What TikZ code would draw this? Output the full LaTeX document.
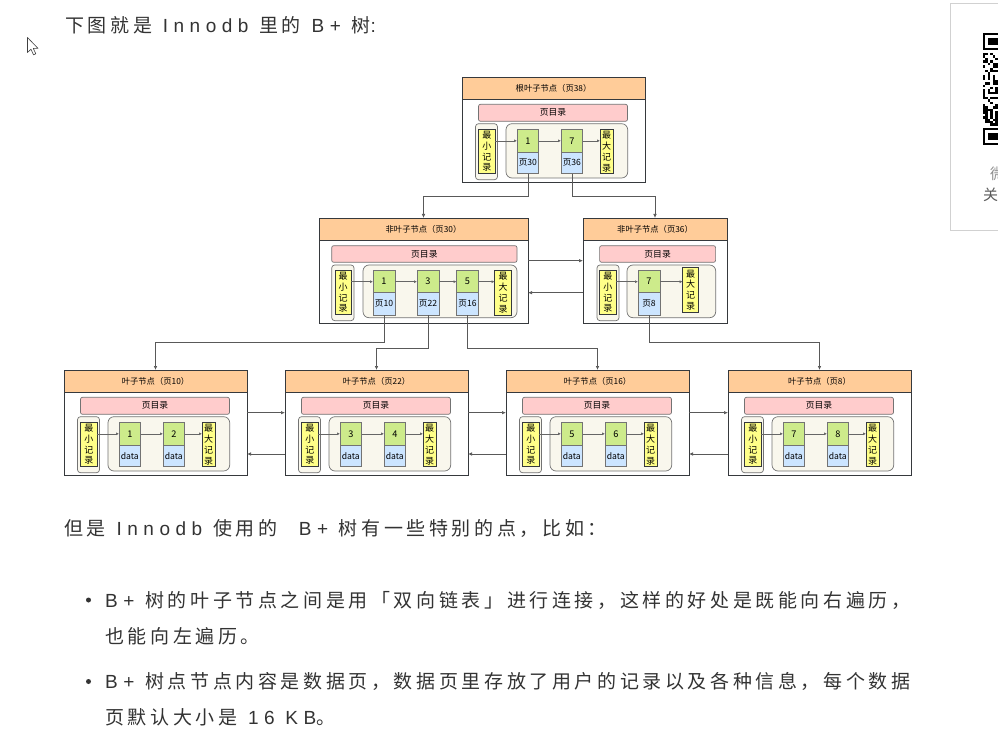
\documentclass[tikz,border=0pt]{standalone}
\usepackage{fontspec}
\setmainfont{Noto Sans CJK SC}
\newfontfamily\cjkb[LetterSpace=19]{Noto Sans CJK SC}
\newfontfamily\latb[LetterSpace=29]{Liberation Sans}
\usetikzlibrary{arrows.meta}
\definecolor{hdr}{HTML}{FFCC99}
\definecolor{pk}{HTML}{FFCCCC}
\definecolor{yl}{HTML}{FFFF88}
\definecolor{gn}{HTML}{CDEB8B}
\definecolor{bl}{HTML}{CCE5FF}
\definecolor{cf}{HTML}{F9F7ED}
\definecolor{lc}{HTML}{36393D}
\definecolor{tx}{HTML}{333333}
\tikzset{
  bx/.style={anchor=north west, inner sep=0pt, outer sep=0pt, line width=0.7pt, draw=lc, font=\fontsize{8.3}{9.5}\selectfont},
  pagebox/.style={bx, fill=white},
  headbox/.style={bx, fill=hdr},
  dirbox/.style={bx, fill=pk, draw=black!55, rounded corners=2pt, font=\fontsize{8.8}{10}\selectfont},
  minbox/.style={bx, fill=cf, draw=black!55, rounded corners=3pt},
  ybox/.style={bx, fill=yl, align=center, font=\fontsize{9}{10.8}\selectfont},
  conbox/.style={bx, fill=cf, draw=black!55, rounded corners=6pt},
  gbox/.style={bx, fill=gn, draw=black!55, font=\fontsize{9.2}{10}\selectfont},
  bbox/.style={bx, fill=bl, draw=black!55, font=\fontsize{8.6}{10}\selectfont},
  inarr/.style={draw=black!60, line width=0.6pt, -{Latex[length=3pt,width=3pt]}},
  tree/.style={draw=black!65, line width=0.7pt, -{Latex[length=4pt,width=3.5pt]}},
  body/.style={anchor=west, inner sep=0pt, text=tx, font=\cjkb\fontsize{19}{22}\selectfont},
  dot/.style={circle, fill=tx, inner sep=0pt, minimum size=5pt},
}
% standard page: #1 prefix, #2 position, #3 title, #4/#5 keys, #6/#7 lower labels
\newcommand\stdpage[7]{%
\begin{scope}[shift={(#2)}]
  \node[pagebox, minimum width=183pt, minimum height=105pt] (#1) at (0,0) {};
  \node[headbox, minimum width=183pt, minimum height=22.5pt] (#1h) at (0,0) {#3};
  \node[dirbox, minimum width=149pt, minimum height=17pt] (#1d) at (16.5,27.3) {页目录};
  \node[minbox, minimum width=22pt, minimum height=56pt] (#1mo) at (13.5,46.7) {};
  \node[ybox, minimum width=16.5pt, minimum height=44.4pt] (#1mi) at (16.5,52.3) {最\\小\\记\\录};
  \node[conbox, minimum width=121.7pt, minimum height=54.3pt] (#1c) at (44,46.7) {};
  \node[gbox, minimum width=21.7pt, minimum height=22.3pt] (#1ka) at (55,52.7) {#4};
  \node[bbox, minimum width=21.7pt, minimum height=21.7pt] (#1ba) at (55,75) {#6};
  \node[gbox, minimum width=21.7pt, minimum height=22.3pt] (#1kb) at (99,52.7) {#5};
  \node[bbox, minimum width=21.7pt, minimum height=21.7pt] (#1bb) at (99,75) {#7};
  \node[ybox, minimum width=13pt, minimum height=44pt] (#1mx) at (138,52.7) {最\\大\\记\\录};
  \draw[inarr] (#1mi.east |- #1ka.west) -- (#1ka.west);
  \draw[inarr] (#1ka.east) -- (#1kb.west);
  \draw[inarr] (#1kb.east) -- (#1mx.west |- #1kb.east);
\end{scope}}
\begin{document}
\begin{tikzpicture}[x=1pt, y=-1pt]
\useasboundingbox (0,0) rectangle (998,735);
\fill[white] (0,0) rectangle (998,735);

% ---------- root ----------
\stdpage{r}{462,77}{根叶子节点（页38）}{1}{7}{页30}{页36}

% ---------- non-leaf page 30 ----------
\begin{scope}[shift={(319,218)}]
  \node[pagebox, minimum width=209pt, minimum height=105pt] (n30) at (0,0) {};
  \node[headbox, minimum width=209pt, minimum height=22.7pt] (n30h) at (0,0) {非叶子节点（页30）};
  \node[dirbox, minimum width=185.3pt, minimum height=16.6pt] (n30d) at (12.7,27.7) {页目录};
  \node[minbox, minimum width=22.3pt, minimum height=55.7pt] (n30mo) at (12.7,47) {};
  \node[ybox, minimum width=15.6pt, minimum height=43.3pt] (n30mi) at (16.4,52.7) {最\\小\\记\\录};
  \node[conbox, minimum width=154pt, minimum height=52.7pt] (n30c) at (44,47) {};
  \node[gbox, minimum width=22pt, minimum height=22pt] (n30ka) at (54,52.7) {1};
  \node[bbox, minimum width=22pt, minimum height=22.3pt] (n30ba) at (54,74.7) {页10};
  \node[gbox, minimum width=22pt, minimum height=22pt] (n30kb) at (98,52.7) {3};
  \node[bbox, minimum width=22pt, minimum height=22.3pt] (n30bb) at (98,74.7) {页22};
  \node[gbox, minimum width=22pt, minimum height=22pt] (n30kc) at (137.5,52.7) {5};
  \node[bbox, minimum width=22pt, minimum height=22.3pt] (n30bc) at (137.5,74.7) {页16};
  \node[ybox, minimum width=17pt, minimum height=44.3pt] (n30mx) at (175.6,52.7) {最\\大\\记\\录};
  \draw[inarr] (n30mi.east |- n30ka.west) -- (n30ka.west);
  \draw[inarr] (n30ka.east) -- (n30kb.west);
  \draw[inarr] (n30kb.east) -- (n30kc.west);
  \draw[inarr] (n30kc.east) -- (n30mx.west |- n30kc.east);
\end{scope}

% ---------- non-leaf page 36 ----------
\begin{scope}[shift={(583,218)}]
  \node[pagebox, minimum width=144pt, minimum height=105pt] (n36) at (0,0) {};
  \node[headbox, minimum width=144pt, minimum height=22.7pt] (n36h) at (0,0) {非叶子节点（页36）};
  \node[dirbox, minimum width=116pt, minimum height=16.6pt] (n36d) at (16.6,27.7) {页目录};
  \node[minbox, minimum width=22pt, minimum height=55.7pt] (n36mo) at (14,47) {};
  \node[ybox, minimum width=16.4pt, minimum height=43.3pt] (n36mi) at (16.6,52.7) {最\\小\\记\\录};
  \node[conbox, minimum width=88.7pt, minimum height=52.7pt] (n36c) at (44,47) {};
  \node[gbox, minimum width=22pt, minimum height=22pt] (n36ka) at (55,52.7) {7};
  \node[bbox, minimum width=22pt, minimum height=22.3pt] (n36ba) at (55,74.7) {页8};
  \node[ybox, minimum width=16pt, minimum height=44.6pt] (n36mx) at (99.6,49.7) {最\\大\\记\\录};
  \draw[inarr] (n36mi.east |- n36ka.west) -- (n36ka.west);
  \draw[inarr] (n36ka.east) -- (n36mx.west |- n36ka.east);
\end{scope}

% ---------- leaves ----------
\stdpage{la}{64,370}{叶子节点（页10）}{1}{2}{data}{data}
\stdpage{lb}{285,370}{叶子节点（页22）}{3}{4}{data}{data}
\stdpage{lc}{506,370}{叶子节点（页16）}{5}{6}{data}{data}
\stdpage{ld}{728,370}{叶子节点（页8）}{7}{8}{data}{data}

% ---------- tree connectors ----------
\coordinate (ya) at (0,196);
\coordinate (yb) at (0,342.7);
\coordinate (yc) at (0,348.3);
\draw[tree] (rba.south) |- (n30.north |- ya) -- (n30.north);
\draw[tree] (rbb.south) |- (n36.north |- ya) -- (n36.north);
\draw[tree] (n30ba.south) |- (la.north |- yb) -- (la.north);
\draw[tree] (n30bb.south) |- (lb.north |- yc) -- (lb.north);
\draw[tree] (n30bc.south) |- (lc.north |- yc) -- (lc.north);
\draw[tree] (n36ba.south) |- (ld.north |- yb) -- (ld.north);

% ---------- sibling links ----------
\coordinate (hf) at (0,260.7);
\coordinate (hb) at (0,292.7);
\draw[tree] (n30.east |- hf) -- (n36.west |- hf);
\draw[tree] (n36.west |- hb) -- (n30.east |- hb);
\coordinate (lf) at (0,412.7);
\coordinate (lbk) at (0,454);
\draw[tree] (la.east |- lf) -- (lb.west |- lf);
\draw[tree] (lb.west |- lbk) -- (la.east |- lbk);
\draw[tree] (lb.east |- lf) -- (lc.west |- lf);
\draw[tree] (lc.west |- lbk) -- (lb.east |- lbk);
\draw[tree] (lc.east |- lf) -- (ld.west |- lf);
\draw[tree] (ld.west |- lbk) -- (lc.east |- lbk);

% ---------- page text ----------
\node[body] (t1) at (65,25) {下图就是{\latb\ Innodb\ }里的{\latb\ B+\ }树{\latb :}};
\node[body] (t2) at (64,528) {但是{\latb\ Innodb\ }使用的{\latb\ \ B+\ }树有一些特别的点，比如：};
\node[dot] (d1) at (88.5,600) {};
\node[body] (t3) at (105,600) {{\latb B+\ }树的叶子节点之间是用「双向链表」进行连接，这样的好处是既能向右遍历，};
\node[body] (t4) at (105,636) {也能向左遍历。};
\node[dot] (d2) at (88.5,681.5) {};
\node[body] (t5) at (105,681.5) {{\latb B+\ }树点节点内容是数据页，数据页里存放了用户的记录以及各种信息，每个数据};
\node[body] (t6) at (105,717) {页默认大小是{\latb\ 16\ KB}。};

% ---------- mouse cursor ----------
\draw[fill=white, draw=black!75, line width=0.6pt, line join=round]
  (27.5,37.5) -- (27.5,52.5) -- (31,49.2) -- (33.5,54.8) -- (35.8,53.8) -- (33.3,48.4) -- (38,48.4) -- cycle;

% ---------- side card with QR code ----------
\begin{scope}
  \clip (940,0) rectangle (998,735);
  \draw[black!18, line width=0.8pt] (950.5,3.5) rectangle (1010,230.5);
  \fill[black] (983,33) rectangle (1000,50);
  \fill[white] (985.4,35.4) rectangle (1000,47.6);
  \fill[black] (987.9,37.9) rectangle (1000,45.2);
  \fill[black] (983,128) rectangle (1000,145);
  \fill[white] (985.4,130.4) rectangle (1000,142.6);
  \fill[black] (987.9,132.9) rectangle (1000,140.2);
  \pgfmathsetseed{11}
  \foreach \c in {0,...,6} {
    \foreach \r in {0,...,29} {
      \pgfmathtruncatemacro\bit{rnd>0.5 ? 1 : 0}
      \ifnum\bit=1
        \fill[black] (983+\c*2.43,53+\r*2.43) rectangle ++(2.43,2.43);
      \fi
    }
  }
  \node[anchor=west, inner sep=0pt, text=black!45, font=\fontsize{15}{18}\selectfont] (c1) at (990,174) {微信};
  \node[anchor=west, inner sep=0pt, text=black!65, font=\fontsize{15}{18}\selectfont] (c2) at (983,195) {关注};
\end{scope}
\end{tikzpicture}
\end{document}
